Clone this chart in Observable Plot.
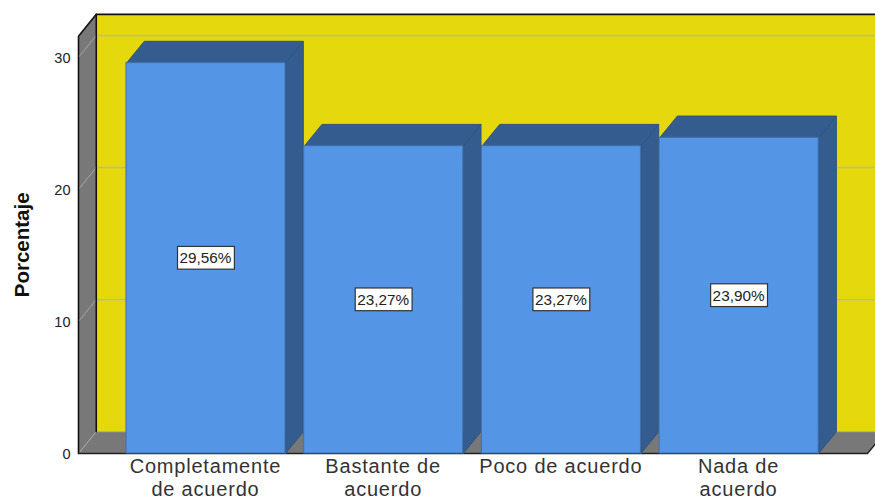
<!DOCTYPE html>
<html>
<head>
<meta charset="utf-8">
<script src="https://cdn.jsdelivr.net/npm/d3@7"></script>
<script src="https://cdn.jsdelivr.net/npm/@observablehq/plot@0.6"></script>
<style>
html,body{margin:0;padding:0;background:#fff;overflow:hidden}
svg{display:block}
g[aria-label="x-axis tick label"]{letter-spacing:0.8px}
</style>
</head>
<body>
<div id="chart"></div>
<script>
const categories = ["Completamente\nde acuerdo", "Bastante de\nacuerdo", "Poco de acuerdo", "Nada de\nacuerdo"];
const values = [29.56, 23.27, 23.27, 23.90];
const valueLabels = ["29,56%", "23,27%", "23,27%", "23,90%"];
const yTicks = [0, 10, 20, 30];

// Chart-space layout of the pseudo-3D box, in scale units
const barWidth = 0.895, depthX = 0.1, depthY = 1.65;
const boxLeft = -0.27, boxRight = 4.17, boxTop = 31.6;
const xMax = 4.215, yMax = 34.3;
const boxHalfW = 0.16, boxHalfH = 0.86;

const YELLOW = "#e5d90d", GRAY = "#787878", BLUE = "#5495e6", DARK = "#345c8f";

const poly = (id, pts) => [...pts, pts[0]].map(([x, y]) => ({id, x, y}));
const dx = depthX, dy = depthY;

const wall = poly("wall", [[boxLeft+dx,dy],[boxRight+dx,dy],[boxRight+dx,boxTop+dy],[boxLeft+dx,boxTop+dy]]);
const side = poly("side", [[boxLeft,0],[boxLeft+dx,dy],[boxLeft+dx,boxTop+dy],[boxLeft,boxTop]]);
const floor = poly("floor", [[boxLeft,0],[boxRight,0],[boxRight+dx,dy],[boxLeft+dx,dy]]);

const barFronts = values.map((v,i)=>({x1:i,x2:i+barWidth,y1:0,y2:v}));
const barSides = values.flatMap((v,i)=>poly("s"+i,[[i+barWidth,0],[i+barWidth+dx,dy],[i+barWidth+dx,v+dy],[i+barWidth,v]]));
const barTops = values.flatMap((v,i)=>poly("t"+i,[[i,v],[i+barWidth,v],[i+barWidth+dx,v+dy],[i+dx,v+dy]]));

const gridBack = yTicks.flatMap(t=>[{id:t,x:boxLeft+dx,y:t+dy},{id:t,x:boxRight+dx,y:t+dy}]);
const gridSide = yTicks.flatMap(t=>[{id:t,x:boxLeft,y:t},{id:t,x:boxLeft+dx,y:t+dy}]);

const centers = values.map((v,i)=>i+0.45);

const chart = Plot.plot({
  width: 875, height: 502,
  marginLeft: 78, marginRight: 0, marginTop: 0, marginBottom: 49,
  style: {fontFamily: "'Liberation Sans', Arial, sans-serif", background: "#fff", color: "#222"},
  x: {domain: [boxLeft, xMax], axis: null},
  y: {domain: [0, yMax], axis: null},
  marks: [
    Plot.line(wall, {x:"x", y:"y", z:"id", fill:YELLOW, stroke:"none"}),
    Plot.line(side, {x:"x", y:"y", z:"id", fill:GRAY, stroke:"none"}),
    Plot.line(floor, {x:"x", y:"y", z:"id", fill:GRAY, stroke:"none"}),
    Plot.line(gridBack.filter(d=>d.id>0), {x:"x", y:"y", z:"id", stroke:"#bdbb8e", strokeWidth:1.5}),
    Plot.line(gridBack.filter(d=>d.id===0), {x:"x", y:"y", z:"id", stroke:"#a8a8a8", strokeWidth:1}),
    Plot.line(gridSide, {x:"x", y:"y", z:"id", stroke:"#a8a8a8", strokeWidth:1}),
    // frame edges
    Plot.line([{x:boxLeft,y:0},{x:boxLeft,y:boxTop},{x:boxLeft+dx,y:boxTop+dy},{x:boxRight+dx,y:boxTop+dy}], {x:"x", y:"y", stroke:"#111", strokeWidth:1.6}),
    Plot.line([{x:boxLeft+dx,y:dy},{x:boxLeft+dx,y:boxTop+dy}], {x:"x", y:"y", stroke:"#111", strokeWidth:1.6}),
    Plot.line([{x:boxLeft,y:0},{x:boxRight,y:0},{x:boxRight+dx,y:dy}], {x:"x", y:"y", stroke:"#222", strokeWidth:1.4}),
    // bars
    Plot.line(barSides, {x:"x", y:"y", z:"id", fill:DARK, stroke:"#2f5482", strokeWidth:1}),
    Plot.line(barTops, {x:"x", y:"y", z:"id", fill:DARK, stroke:"#2f5482", strokeWidth:1}),
    Plot.rect(barFronts, {x1:"x1", x2:"x2", y1:"y1", y2:"y2", fill:BLUE, stroke:"#3f70ad", strokeWidth:1}),
    // value labels
    Plot.rect(values, {
      x1:(v,i)=>centers[i]-boxHalfW, x2:(v,i)=>centers[i]+boxHalfW,
      y1:v=>v/2-boxHalfH, y2:v=>v/2+boxHalfH,
      fill:"#fff", stroke:"#333", strokeWidth:1.2
    }),
    Plot.text(values, {
      x:(v,i)=>centers[i], y:v=>v/2, dx:-1,
      text:(v,i)=>valueLabels[i], fontSize:15.3, fill:"#222"
    }),
    // axes
    Plot.axisY({ticks:yTicks, tickSize:0, tickPadding:8, fontSize:14.5, dy:1, label:null, tickFormat:d=>String(d)}),
    Plot.axisX({ticks:centers, tickFormat:(d)=>categories[centers.indexOf(d)], tickSize:0, tickPadding:3, dx:-1, fontSize:20, lineHeight:1.16, label:null, textOverflow:null, fill:"#333"}),
    Plot.text(["Porcentaje"], {x:boxLeft, y:15.8, dx:-56, rotate:-90, fontSize:20.5, fontWeight:"bold", fill:"#111"})
  ]
});
document.getElementById("chart").appendChild(chart);
</script>
</body>
</html>
